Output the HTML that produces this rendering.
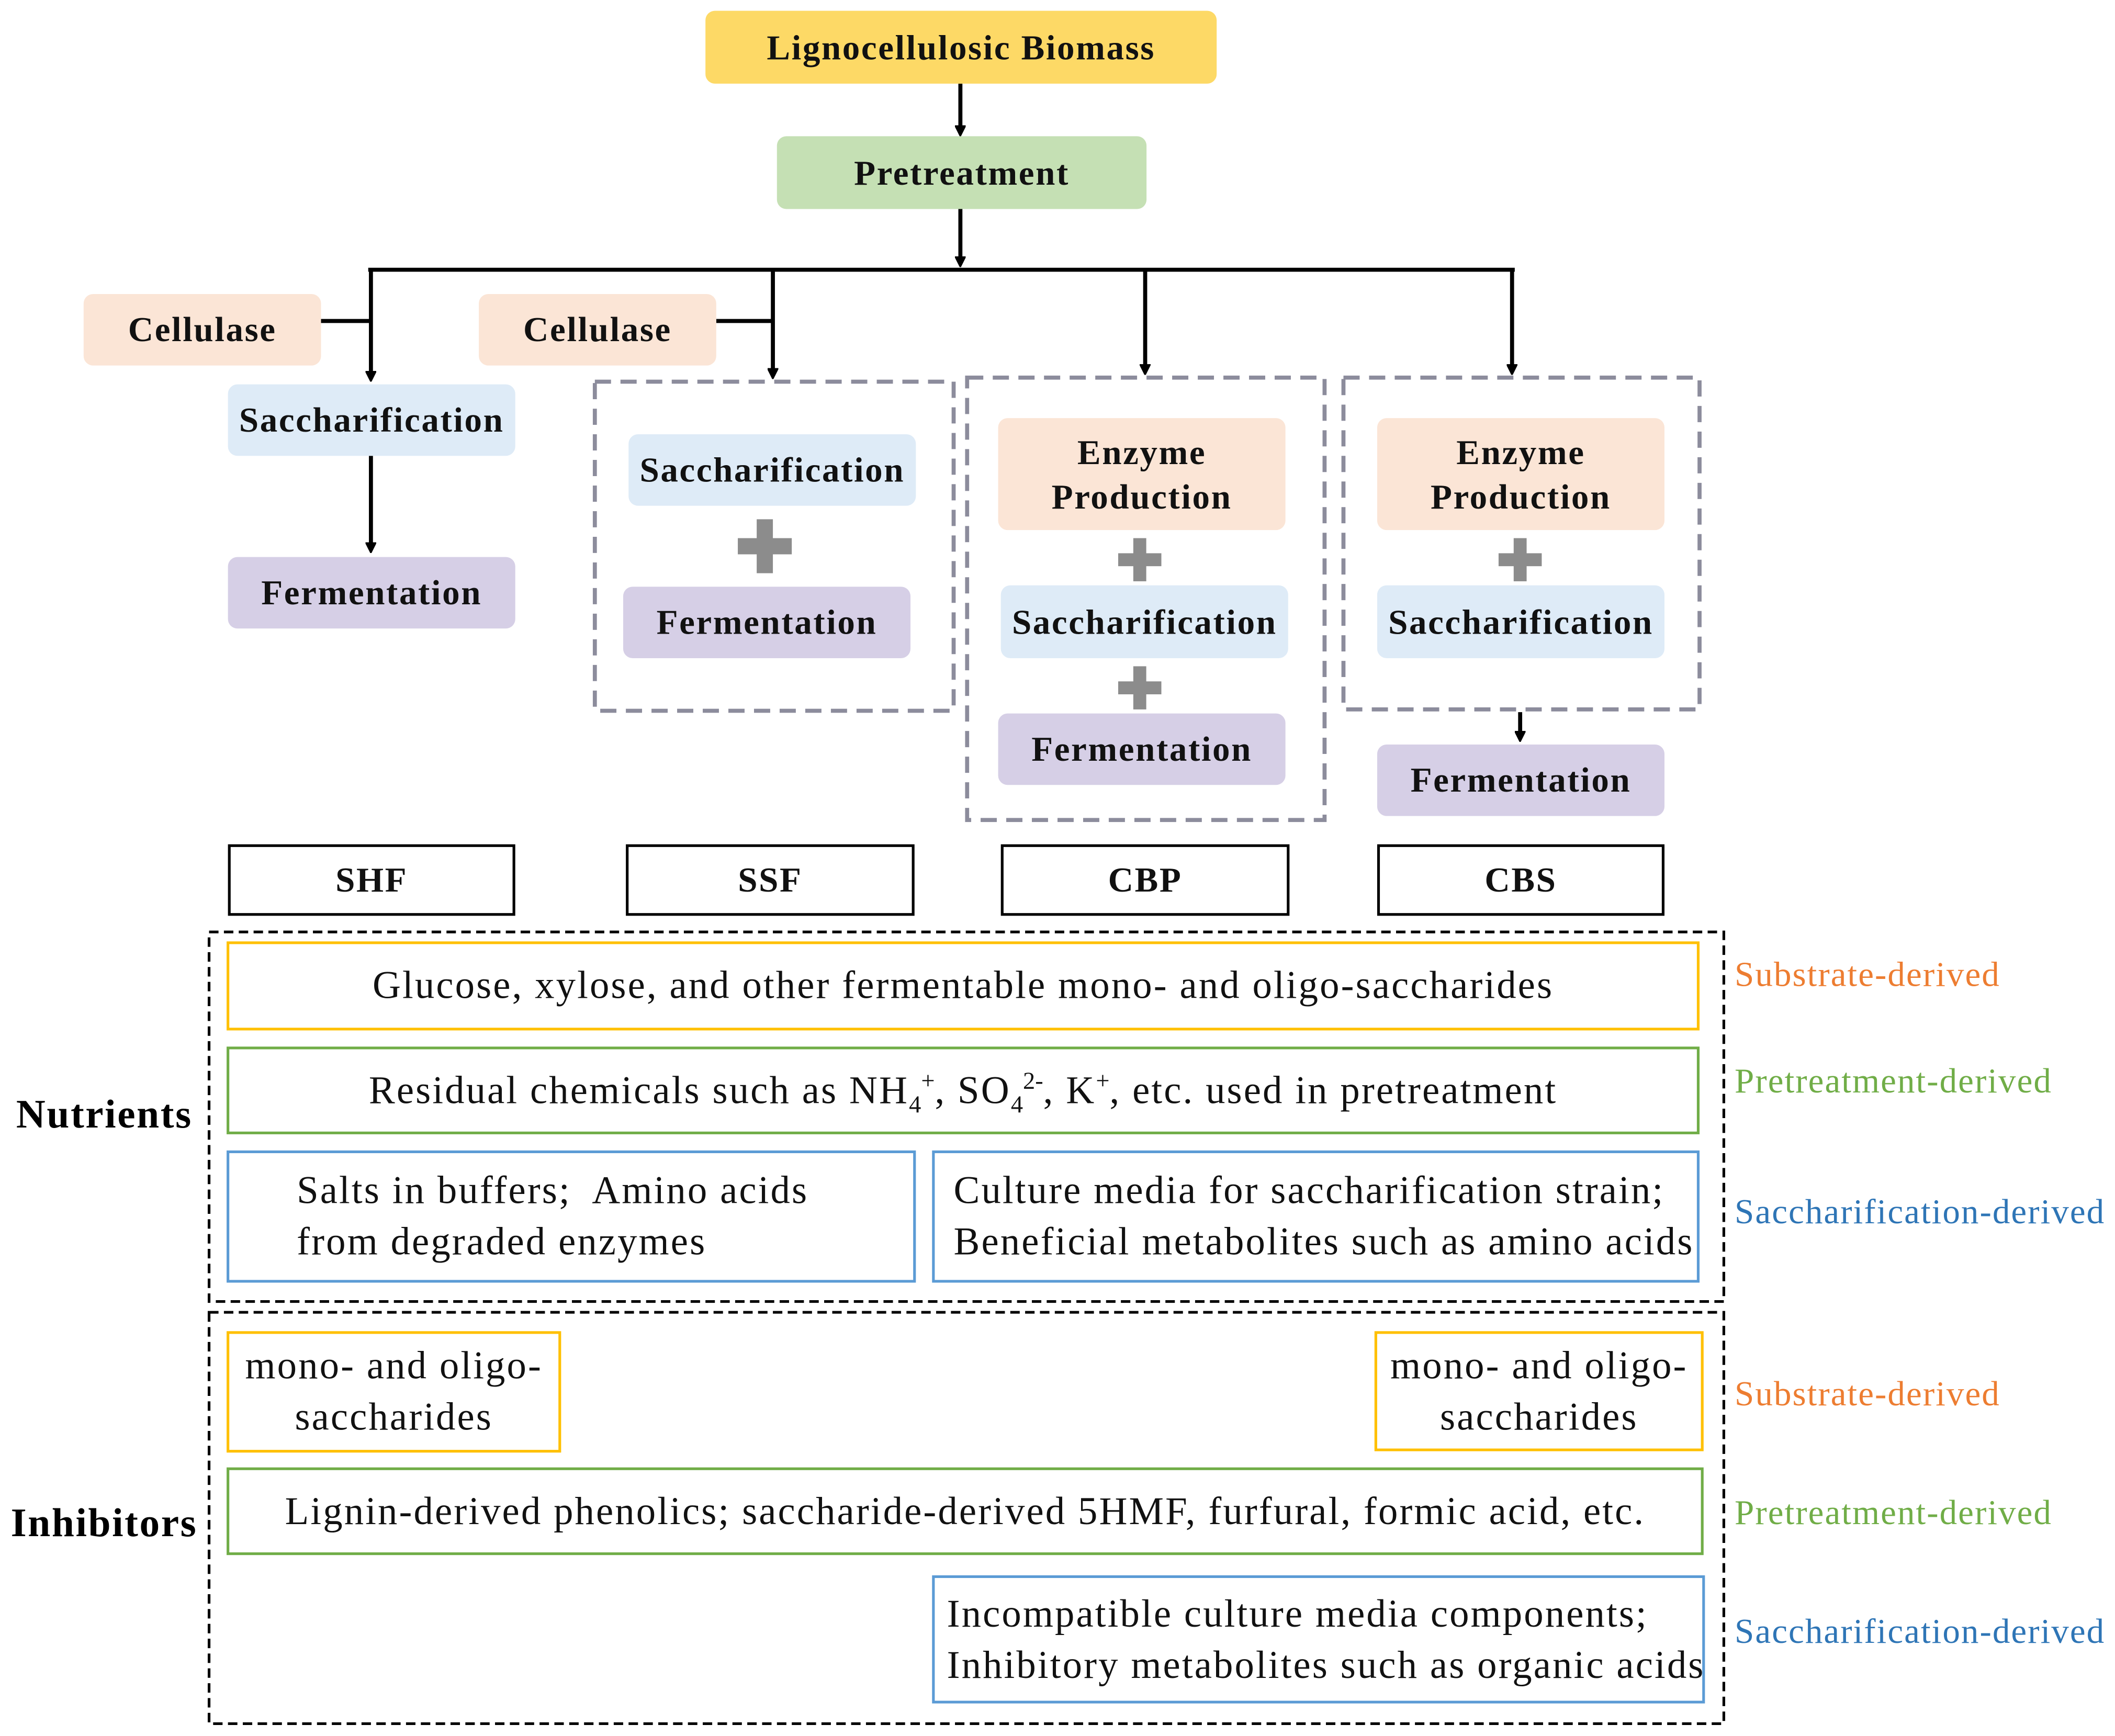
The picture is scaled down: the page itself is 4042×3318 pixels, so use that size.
<!DOCTYPE html>
<html><head><meta charset="utf-8"><style>
html,body{margin:0;padding:0;background:#fff;}
body{width:4042px;height:3318px;overflow:hidden;position:relative;}
#c{position:absolute;left:0;top:0;width:1568px;height:1287px;transform:scale(2.5778);transform-origin:0 0;font-family:"Liberation Serif",serif;}
.b{position:absolute;display:flex;align-items:center;justify-content:center;text-align:center;box-sizing:border-box;border-radius:7px;font-weight:bold;font-size:26px;letter-spacing:1px;color:#111;line-height:33px;}
.t{position:absolute;box-sizing:border-box;display:flex;align-items:center;justify-content:center;text-align:center;font-size:29px;letter-spacing:1.2px;color:#111;line-height:38px;white-space:nowrap;}
.l{position:absolute;font-size:26px;letter-spacing:0.8px;white-space:nowrap;}
.d{position:absolute;box-sizing:border-box;}
.y{background:#fdd966}.g{background:#c5e0b4}.o{background:#fbe5d6}.s{background:#deebf7}.p{background:#d6cfe6}
.pl{position:absolute;width:40px;height:40px;}
.pl:before{content:"";position:absolute;left:0;top:14px;width:40px;height:12px;background:#8c8c8c}
.pl:after{content:"";position:absolute;left:14px;top:0;width:12px;height:40px;background:#8c8c8c}
sub,sup{font-size:18px;line-height:0;letter-spacing:0}
</style></head><body><div id="c">
<svg width="1568" height="1287" style="position:absolute;left:0;top:0">
<defs><marker id="a" markerWidth="8" markerHeight="8" refX="5" refY="4" orient="auto" markerUnits="userSpaceOnUse"><path d="M0,0 L8,4 L0,8 z" fill="#000" transform="scale(1.5) translate(-2,-1.3)"/></marker></defs>
<g stroke="#000" stroke-width="3" fill="none">
<line x1="712" y1="62" x2="712" y2="98" marker-end="url(#a)"/>
<line x1="712" y1="155" x2="712" y2="195" marker-end="url(#a)"/>
<line x1="273" y1="200" x2="1123" y2="200"/>
<line x1="275" y1="200" x2="275" y2="280" marker-end="url(#a)"/>
<line x1="573" y1="200" x2="573" y2="278" marker-end="url(#a)"/>
<line x1="849" y1="200" x2="849" y2="275" marker-end="url(#a)"/>
<line x1="1121" y1="200" x2="1121" y2="275" marker-end="url(#a)"/>
<line x1="238" y1="238" x2="275" y2="238"/>
<line x1="531" y1="238" x2="573" y2="238"/>
<line x1="275" y1="338" x2="275" y2="407" marker-end="url(#a)"/>
<line x1="1127" y1="528" x2="1127" y2="547" marker-end="url(#a)"/>
</g>
<g stroke="#8c8c9c" stroke-width="3" fill="none" stroke-dasharray="12,7">
<rect x="441" y="283" width="266" height="244"/>
<rect x="717" y="280" width="265" height="328"/>
<rect x="996" y="280" width="264" height="246"/>
</g>
<g stroke="#000" stroke-width="2" fill="none" stroke-dasharray="7,4">
<rect x="155" y="691" width="1123" height="274"/>
<rect x="155" y="973" width="1123" height="305"/>
</g>
</svg>
<div class="b y" style="left:523px;top:8px;width:379px;height:54px">Lignocellulosic Biomass</div>
<div class="b g" style="left:576px;top:101px;width:274px;height:54px">Pretreatment</div>
<div class="b o" style="left:62px;top:218px;width:176px;height:53px">Cellulase</div>
<div class="b o" style="left:355px;top:218px;width:176px;height:53px">Cellulase</div>
<div class="b s" style="left:169px;top:285px;width:213px;height:53px">Saccharification</div>
<div class="b p" style="left:169px;top:413px;width:213px;height:53px">Fermentation</div>
<div class="b s" style="left:466px;top:322px;width:213px;height:53px">Saccharification</div>
<div class="pl" style="left:547px;top:385px"></div>
<div class="b p" style="left:462px;top:435px;width:213px;height:53px">Fermentation</div>
<div class="b o" style="left:740px;top:310px;width:213px;height:83px">Enzyme<br>Production</div>
<div class="pl" style="left:825px;top:395px;transform:scale(.8)"></div>
<div class="b s" style="left:742px;top:434px;width:213px;height:54px">Saccharification</div>
<div class="pl" style="left:825px;top:490px;transform:scale(.8)"></div>
<div class="b p" style="left:740px;top:529px;width:213px;height:53px">Fermentation</div>
<div class="b o" style="left:1021px;top:310px;width:213px;height:83px">Enzyme<br>Production</div>
<div class="pl" style="left:1107px;top:395px;transform:scale(.8)"></div>
<div class="b s" style="left:1021px;top:434px;width:213px;height:54px">Saccharification</div>
<div class="b p" style="left:1021px;top:552px;width:213px;height:53px">Fermentation</div>
<div class="b" style="left:169px;top:626px;width:213px;height:53px;border:2px solid #000;border-radius:0">SHF</div>
<div class="b" style="left:464px;top:626px;width:214px;height:53px;border:2px solid #000;border-radius:0">SSF</div>
<div class="b" style="left:742px;top:626px;width:214px;height:53px;border:2px solid #000;border-radius:0">CBP</div>
<div class="b" style="left:1021px;top:626px;width:213px;height:53px;border:2px solid #000;border-radius:0">CBS</div>

<div class="t" style="left:168px;top:698px;width:1092px;height:66px;border:2px solid #ffc000"><span>Glucose, xylose, and other fermentable mono- and oligo-saccharides</span></div>
<div class="t" style="left:168px;top:776px;width:1092px;height:65px;border:2px solid #70ad47"><span>Residual chemicals such as NH<sub>4</sub><sup>+</sup>, SO<sub>4</sub><sup>2-</sup>, K<sup>+</sup>, etc. used in pretreatment</span></div>
<div class="t" style="left:168px;top:853px;width:511px;height:98px;border:2px solid #5b9bd5;justify-content:flex-start;text-align:left;padding-left:50px"><span>Salts in buffers;&nbsp; Amino acids<br>from degraded enzymes</span></div>
<div class="t" style="left:691px;top:853px;width:569px;height:98px;border:2px solid #5b9bd5;justify-content:flex-start;text-align:left;padding-left:14px"><span>Culture media for saccharification strain;<br>Beneficial metabolites such as amino acids</span></div>
<div class="t" style="left:168px;top:987px;width:248px;height:90px;border:2px solid #ffc000"><span>mono- and oligo-<br>saccharides</span></div>
<div class="t" style="left:1019px;top:987px;width:244px;height:89px;border:2px solid #ffc000"><span>mono- and oligo-<br>saccharides</span></div>
<div class="t" style="left:168px;top:1088px;width:1095px;height:65px;border:2px solid #70ad47"><span>Lignin-derived phenolics; saccharide-derived 5HMF, furfural, formic acid, etc.</span></div>
<div class="t" style="left:691px;top:1168px;width:573px;height:95px;border:2px solid #5b9bd5;justify-content:flex-start;text-align:left;padding-left:9px"><span>Incompatible culture media components;<br>Inhibitory metabolites such as organic acids</span></div>

<div class="l" style="left:1286px;top:708px;color:#ed7d31">Substrate-derived</div>
<div class="l" style="left:1286px;top:787px;color:#70ad47">Pretreatment-derived</div>
<div class="l" style="left:1286px;top:884px;color:#2e75b6">Saccharification-derived</div>
<div class="l" style="left:1286px;top:1019px;color:#ed7d31">Substrate-derived</div>
<div class="l" style="left:1286px;top:1107px;color:#70ad47">Pretreatment-derived</div>
<div class="l" style="left:1286px;top:1195px;color:#2e75b6">Saccharification-derived</div>
<div class="l" style="left:12px;top:810px;font-weight:bold;font-size:30px;letter-spacing:1px">Nutrients</div>
<div class="l" style="left:8px;top:1113px;font-weight:bold;font-size:30px;letter-spacing:1px">Inhibitors</div>
</div></body></html>
